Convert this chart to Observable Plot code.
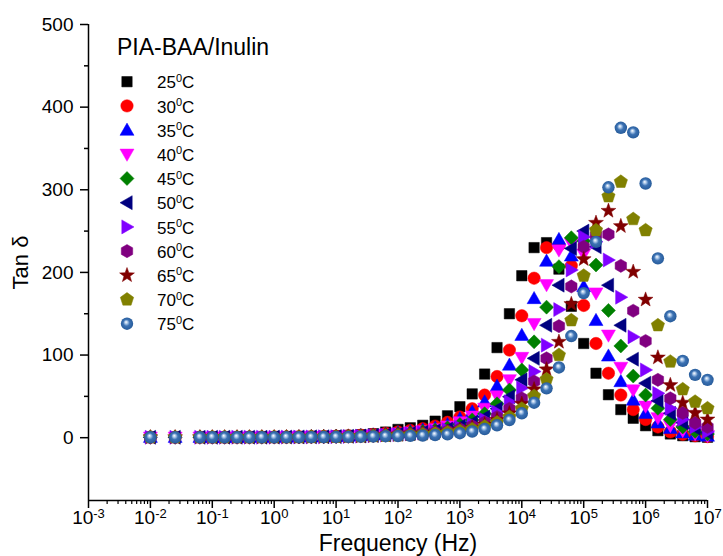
<!DOCTYPE html>
<html><head><meta charset="utf-8">
<script src="https://cdn.jsdelivr.net/npm/d3@7"></script>
<script src="https://cdn.jsdelivr.net/npm/@observablehq/plot@0.6"></script>
<style>
body{margin:0;background:#fff;}
#wrap{position:relative;width:723px;height:556px;font-family:Arial,"Liberation Sans",sans-serif;}
#wrap svg{display:block;}
</style></head><body><div id="wrap"></div>
<script>
// Frequencies (Hz)
const frequency = [0.01,0.0251,0.0631,0.1,0.158,0.251,0.398,0.631,1,1.58,2.51,3.98,6.31,10,15.8,25.1,39.8,63.1,100,158,251,398,631,1000,1580,2510,3980,6310,1e4,15800,25100,39800,63100,1e5,158000,251000,398000,631000,1e6,1.58e6,2.51e6,3.98e6,6.31e6,1e7];
const temps = ["25","30","35","40","45","50","55","60","65","70","75"];
const tan25 = [0.6,0.6,0.6,0.6,0.7,0.7,0.8,0.9,1.0, 1.1,1.3,1.5,1.8,2.2,2.8,3.6,4.8,6.8, 10,12,15,20,26.5,37.5,53,77,109,150, 196,230,236,204,159,114,78,52,34,23.5,14.5,8.5,4.5,2.4,1.2,0.5];
const tan30 = [0.6,0.6,0.6,0.6,0.6,0.7,0.7,0.8,0.9, 1.0,1.1,1.3,1.5,1.8,2.3,3.0,4.0,5.4, 7,8.7,11,14,18.6,25,35,51.6,74,106, 147.5,193,230,233,208,160,114,78,51.6,34,22,13,7,4,2.4,1.3];
const tan35 = [0.6,0.6,0.6,0.6,0.6,0.6,0.7,0.7,0.8, 0.9,1.0,1.2,1.4,1.7,2.1,2.7,3.5,4.6, 6,7.5,9.5,12,16,23,31.4,43.5,62.5,88, 124,168.5,213.7,240,220,183,142,99,68,45.6,29.5,18,11.4,6,3.3,2];
const tan40 = [0.5,0.5,0.6,0.6,0.6,0.6,0.6,0.7,0.7, 0.8,0.95,1.1,1.3,1.5,1.9,2.4,3.1,4.1, 5.3,6.7,8.3,10.5,14,19,26,35.5,50.4,70, 97,138,185,227,235,222,175,124,85,57.7,38,24,14.5,8.5,4.6,2.5];
const tan45 = [0.5,0.5,0.5,0.6,0.6,0.6,0.6,0.6,0.7, 0.8,0.9,1.05,1.2,1.4,1.75,2.2,2.9,3.8, 4.8,6,7.4,9.3,12,16,21.5,29,41,57.7, 82,116,158,207,242,238,209,154,111,74.6,51.6,35.5,22,13,7.6,4.4];
const tan50 = [0.5,0.5,0.5,0.5,0.6,0.6,0.6,0.6,0.7, 0.8,0.9,1.0,1.15,1.35,1.65,2.1,2.7,3.5, 4.4,5.4,6.6,8.3,10.5,14,18.5,25,35,49.6, 70,96,136,184.6,229,250,231,184.6,136,95,66,44.7,29.5,18,11.4,6];
const tan55 = [0.5,0.5,0.5,0.5,0.5,0.6,0.6,0.6,0.6, 0.7,0.8,0.9,1.05,1.25,1.5,1.9,2.5,3.2, 4.0,4.9,6.0,7.5,9.5,12.5,16.5,22,31,43.5, 60,80,112,155,203,243,237,215,170,122,82,53.7,35.5,22,13,7];
const tan60 = [0.5,0.5,0.5,0.5,0.5,0.5,0.6,0.6,0.6, 0.7,0.75,0.85,1.0,1.15,1.4,1.75,2.3,2.9, 3.6,4.4,5.4,6.6,8,10.5,14,18.5,25,35, 47.6,68,96,135,183,231,245,246,208,153.6,117,70,47.6,30,18,13];
const tan65 = [0.5,0.5,0.5,0.5,0.5,0.5,0.5,0.6,0.6, 0.65,0.7,0.8,0.95,1.1,1.3,1.6,2.1,2.6, 3.2,3.9,4.7,5.8,7.3,9.3,12,16,21.5,29.5, 41,58.5,82.7,116,161.7,216,260,274.5,256,200.7,167,97,63.7,42.3,30,22];
const tan70 = [0.5,0.5,0.5,0.5,0.5,0.5,0.5,0.5,0.6, 0.6,0.65,0.75,0.9,1.0,1.2,1.5,1.9,2.3, 2.8,3.4,4.1,5,6.3,8,10.3,13.5,18.5,25, 35,50.4,70.6,100,142,196,251,292,309.6,264.5,251,136,92,58.5,43.5,35.5];
const tan75 = [0.5,0.5,0.5,0.5,0.5,0.5,0.5,0.5,0.5, 0.6,0.6,0.7,0.8,0.9,1.0,1.2,1.5,1.8, 2.0,2.2,2.6,3.2,4,5.4,7.5,10.5,15,21.4, 29.5,42.3,59.7,85,123,175,237,303,375,369.5,307.6,217,147,93,76,70];
const yMajor = [0,100,200,300,400,500];
const yMinor = [50,150,250,350,450];
const xMajor = [1e-3,1e-2,1e-1,1,1e1,1e2,1e3,1e4,1e5,1e6,1e7];
const titleText = "PIA-BAA/Inulin";
const xLabel = "Frequency (Hz)";
const yLabel = "Tan δ";

const seriesValues = [tan25,tan30,tan35,tan40,tan45,tan50,tan55,tan60,tan65,tan70,tan75];

// symbol helpers
function poly(pts){
  return {draw(ctx,size){
    const u = Math.sqrt(size/Math.PI)/6;
    pts.forEach(([x,y],i)=> i ? ctx.lineTo(x*u,y*u) : ctx.moveTo(x*u,y*u));
    ctx.closePath();
  }};
}
function regular(n, R, rot){
  const p=[]; for(let k=0;k<n;k++){const a=rot+2*Math.PI*k/n; p.push([R*Math.cos(a),R*Math.sin(a)]);} return p;
}
function starPts(R, r){
  const p=[]; for(let k=0;k<10;k++){const a=-Math.PI/2+Math.PI*k/5; const rr=k%2?r:R; p.push([rr*Math.cos(a),rr*Math.sin(a)]);} return p;
}
const circleSym = {draw(ctx,size){const r=Math.sqrt(size/Math.PI); ctx.moveTo(r,0); ctx.arc(0,0,r,0,2*Math.PI);}};
const symSquare = poly([[-5.2,-5.2],[5.2,-5.2],[5.2,5.2],[-5.2,5.2]]);
const symUp = poly([[0,-7],[7,5.2],[-7,5.2]]);
const symDown = poly([[0,7],[7,-5.2],[-7,-5.2]]);
const symLeft = poly([[-7,0],[5.2,-7],[5.2,7]]);
const symRight = poly([[7,0],[-5.2,-7],[-5.2,7]]);
const symDiamond = poly([[0,-7],[7,0],[0,7],[-7,0]]);
const symHex = poly(regular(6,6.6,-Math.PI/2));
const symStar = poly(starPts(7.8,3.2));
const symPent = poly(regular(5,7,-Math.PI/2));

const styles = [
  {color:"#000000", symbol:symSquare},
  {color:"#FF0000", symbol:circleSym, r:6.2},
  {color:"#0000FF", symbol:symUp},
  {color:"#FF00FF", symbol:symDown},
  {color:"#008000", symbol:symDiamond},
  {color:"#000080", symbol:symLeft},
  {color:"#8000FF", symbol:symRight},
  {color:"#800080", symbol:symHex},
  {color:"#800000", symbol:symStar},
  {color:"#808000", symbol:symPent},
  {color:"url(#ballGrad)", stroke:"none", symbol:circleSym, r:6.2}
];

const xMinor = [];
xMajor.slice(0,-1).forEach(d=>{ for(let k=2;k<10;k++) xMinor.push(d*k); });

const font = "Arial, 'Liberation Sans', sans-serif";
const marks = [
  Plot.ruleX([1e-3], {stroke:"#000", strokeWidth:1.5}),
  Plot.ruleY([-76], {stroke:"#000", strokeWidth:1.5}),
  Plot.axisY(yMajor, {tickSize:8, tickPadding:7, strokeWidth:1.5, fontSize:19, label:null, tickFormat:d=>String(d)}),
  Plot.axisY(yMinor, {tickSize:4, strokeWidth:1.5, label:null, tickFormat:()=>""}),
  Plot.axisX(xMajor, {tickSize:8, tickPadding:2, strokeWidth:1.5, fontSize:19, label:null, tickFormat:d=>"10^"+Math.round(Math.log10(d))}),
  Plot.axisX(xMinor, {tickSize:4, strokeWidth:1.2, label:null, tickFormat:()=>""}),
  Plot.text([yLabel], {frameAnchor:"left", dx:-68, rotate:-90, fontSize:22, textAnchor:"middle"}),
  Plot.text([xLabel], {frameAnchor:"bottom", dy:50, fontSize:23, textAnchor:"middle"})
];
seriesValues.forEach((vals,k)=>{
  const st = styles[k];
  marks.push(Plot.dot(frequency.map((f,i)=>({f, v:vals[i]})), {
    x:"f", y:"v", symbol:st.symbol, r:st.r || 6,
    fill:st.color, stroke:st.stroke || st.color, strokeWidth:0.5
  }));
});

const svg = Plot.plot({
  width:723, height:556,
  marginLeft:88, marginRight:16, marginTop:24, marginBottom:56,
  x:{type:"log", domain:[1e-3,1e7]},
  y:{domain:[-76,500]},
  style:{fontFamily:font, background:"#fff", color:"#000", overflow:"visible"},
  marks
});

// gradient for ball symbols
const defs = d3.select(svg).insert("defs", ":first-child");
const g = defs.append("radialGradient").attr("id","ballGrad").attr("cx","50%").attr("cy","50%").attr("r","55%").attr("fx","42%").attr("fy","36%");
g.append("stop").attr("offset","0%").attr("stop-color","#ffffff");
g.append("stop").attr("offset","22%").attr("stop-color","#a9c6e8");
g.append("stop").attr("offset","48%").attr("stop-color","#3c72b3");
g.append("stop").attr("offset","85%").attr("stop-color","#2a5f9f");
g.append("stop").attr("offset","100%").attr("stop-color","#24558f");

// superscript exponents on x tick labels
d3.select(svg).selectAll("text").each(function(){
  const t = this.textContent;
  const m = /^10\^(-?\d+)$/.exec(t);
  if(!m) return;
  const sel = d3.select(this);
  sel.text(null);
  sel.append("tspan").text("10");
  sel.append("tspan").attr("dy","-0.45em").attr("font-size","13px").text(m[1]);
});

const wrap = document.getElementById("wrap");
wrap.appendChild(svg);

// legend overlay
const leg = d3.select(wrap).append("svg").attr("width",723).attr("height",556)
  .style("position","absolute").style("left","0px").style("top","0px").style("font-family",font);
leg.append("text").attr("x",117).attr("y",55).attr("font-size",23).attr("fill","#000").text(titleText);
temps.forEach((tp,k)=>{
  const st = styles[k];
  const cy = 81.7 + 24.2*k;
  const r = st.r || 6;
  leg.append("path").attr("transform",`translate(127,${cy})`)
    .attr("d", d3.symbol(st.symbol, r*r*Math.PI)())
    .attr("fill", st.color).attr("stroke", st.stroke || st.color).attr("stroke-width",0.5);
  const t = leg.append("text").attr("x",157).attr("y",cy+6.6).attr("font-size",17).attr("fill","#000");
  t.append("tspan").text(tp);
  t.append("tspan").attr("dy",-6.6).attr("font-size",11).text("0");
  t.append("tspan").attr("dy",6.6).text("C");
});
</script>
</body></html>
